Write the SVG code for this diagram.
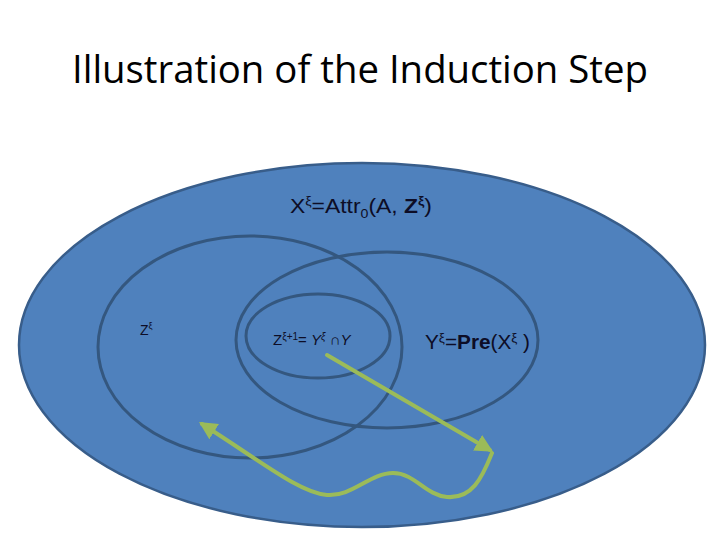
<svg xmlns="http://www.w3.org/2000/svg" width="720" height="540" viewBox="0 0 720 540">
<style>
.set{fill:none;stroke:#34577f;stroke-width:3}
.lbl{font-family:"Liberation Sans","Open Sans",sans-serif;fill:#0d0d26}
.arr{fill:none;stroke:#9bbb59;stroke-width:4;stroke-linecap:round;stroke-linejoin:round}
</style>
<defs>
<marker id="ah" viewBox="0 0 10 10" refX="8" refY="5" markerWidth="4.5" markerHeight="4.5" orient="auto" markerUnits="strokeWidth">
<path d="M0,0 L10,5 L0,10 z" fill="#9bbb59"/>
</marker>
</defs>
<rect width="720" height="540" fill="#ffffff"/>
<text x="360" y="83" text-anchor="middle" font-family="'Open Sans','Liberation Sans',sans-serif" font-size="39" fill="#000" textLength="576" lengthAdjust="spacingAndGlyphs">Illustration of the Induction Step</text>
<g id="outer">
<ellipse cx="362" cy="345" rx="343" ry="182" fill="#4f81bd" stroke="#385d8a" stroke-width="2.5"/>
<text class="lbl" x="290" y="213" font-size="21" textLength="142" lengthAdjust="spacingAndGlyphs">X<tspan font-size="13" dy="-8">ξ</tspan><tspan dy="8">=Attr</tspan><tspan font-size="13" dy="5">0</tspan><tspan dy="-5">(A, </tspan><tspan font-weight="bold">Z</tspan><tspan font-size="13" font-weight="bold" dy="-8">ξ</tspan><tspan dy="8">)</tspan></text>
</g>
<g id="z">
<ellipse class="set" cx="250" cy="347" rx="152" ry="111"/>
<text class="lbl" x="140" y="335" font-size="14">Z<tspan font-size="9" dy="-6">ξ</tspan></text>
</g>
<g id="y">
<ellipse class="set" cx="387" cy="340" rx="151" ry="88"/>
<text class="lbl" x="425" y="349" font-size="20" textLength="105" lengthAdjust="spacingAndGlyphs">Y<tspan font-size="13" dy="-7">ξ</tspan><tspan dy="7">=</tspan><tspan font-weight="bold">Pre</tspan>(X<tspan font-size="13" dy="-7">ξ</tspan><tspan dy="7"> )</tspan></text>
</g>
<g id="zn">
<ellipse class="set" cx="318" cy="336" rx="72" ry="42"/>
<text class="lbl" x="273" y="345" font-size="15">Z<tspan font-size="10" dy="-5">ξ+1</tspan><tspan dy="5">= </tspan><tspan font-style="italic">Y</tspan><tspan font-size="10" font-style="italic" dy="-5">ξ</tspan><tspan dy="5"> ∩</tspan><tspan font-style="italic">Y</tspan></text>
</g>
<g id="connectors">
<path class="arr" d="M327 355 L490 450" marker-end="url(#ah)"/>
<path class="arr" d="M492 453 C482 478 472 499 447 497 C425 495 415 473 393 473 C370 473 352 497 327 495 C300 493 262 462 202 424" marker-end="url(#ah)"/>
</g>
</svg>
